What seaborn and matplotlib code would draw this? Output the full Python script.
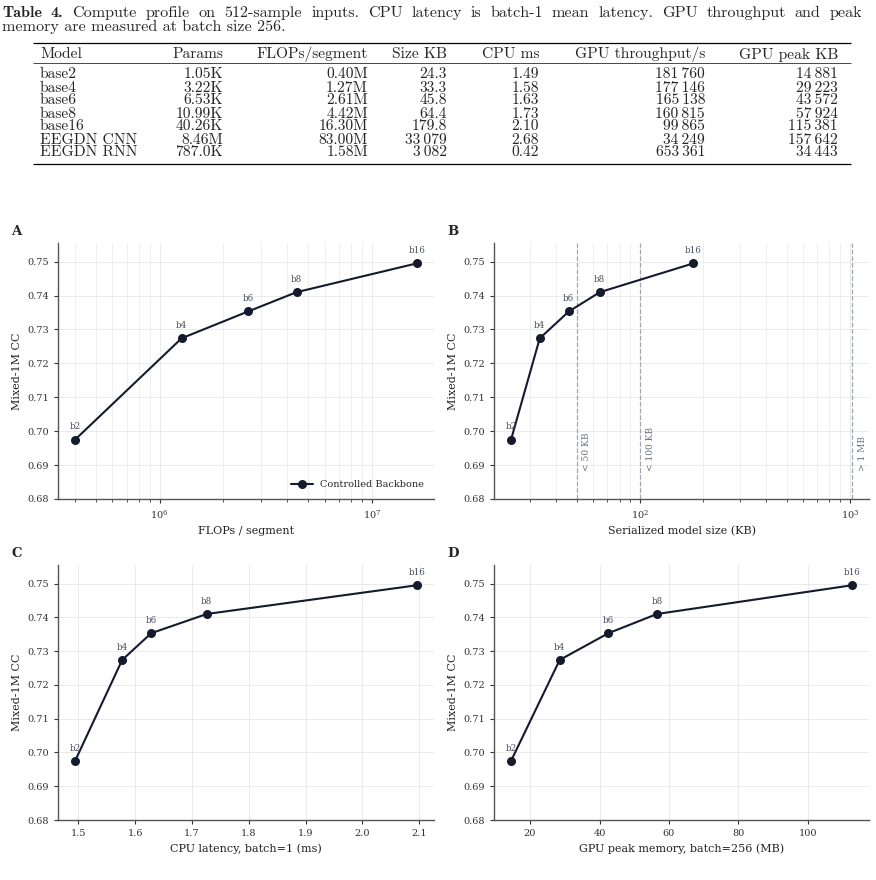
import matplotlib
matplotlib.use("Agg")
import matplotlib.pyplot as plt
import pandas as pd
import seaborn as sns
from matplotlib.ticker import FormatStrFormatter, LogLocator, NullFormatter, MultipleLocator

# ---- table data (Table 4) ----
table_header = ["Model", "Params", "FLOPs/segment", "Size KB", "CPU ms", "GPU throughput/s", "GPU peak KB"]
table_models = ["base2", "base4", "base6", "base8", "base16", "EEGDN CNN", "EEGDN RNN"]
table_params = ["1.05K", "3.22K", "6.53K", "10.99K", "40.26K", "8.46M", "787.0K"]
table_flops = ["0.40M", "1.27M", "2.61M", "4.42M", "16.30M", "83.00M", "1.58M"]
table_size = ["24.3", "33.3", "45.8", "64.4", "179.8", "33\u2009079", "3\u2009082"]
table_cpu = ["1.49", "1.58", "1.63", "1.73", "2.10", "2.68", "0.42"]
table_thr = ["181\u2009760", "177\u2009146", "165\u2009138", "160\u2009815", "99\u2009865", "34\u2009249", "653\u2009361"]
table_peak = ["14\u2009881", "29\u2009223", "43\u2009572", "57\u2009924", "115\u2009381", "157\u2009642", "34\u2009443"]

caption_1 = ("Compute profile on 512-sample inputs. CPU latency is batch-1 mean latency. "
             "GPU throughput and peak")
caption_2 = "memory are measured at batch size 256."

# ---- plot data (controlled backbone) ----
labels = ["b2", "b4", "b6", "b8", "b16"]
cc = [0.6975, 0.7274, 0.7353, 0.7410, 0.7495]
flops = [0.40e6, 1.27e6, 2.61e6, 4.42e6, 16.30e6]
size_kb = [24.3, 33.3, 45.8, 64.4, 179.8]
cpu_ms = [1.494, 1.577, 1.628, 1.726, 2.096]
gpu_mb = [14.53, 28.54, 42.55, 56.57, 112.68]
size_limits = [50, 100, 1024]
size_limit_labels = ["< 50 KB", "< 100 KB", "> 1 MB"]

ink = "#141b2d"
sns.set_style("ticks")
plt.rcParams["font.family"] = ["DejaVu Serif"]
plt.rcParams["mathtext.fontset"] = "dejavuserif"

W, H = 876, 880
fig = plt.figure(figsize=(W / 100, H / 100), dpi=100)

# table drawn in pixel coordinates
tab = fig.add_axes([0, 0, 1, 1])
tab.set_xlim(0, W)
tab.set_ylim(H, 0)
tab.axis("off")
cm = ["cmr10", "DejaVu Serif"]
cmb = ["cmb10", "DejaVu Serif"]
fs_cap = 11.6
fs_tab = 11.2
r = fig.canvas.get_renderer()

# caption line 1 is justified across the text width
words = [("Table", cmb), ("4.", cmb)] + [(w, cm) for w in caption_1.split(" ")]
items = []
for w, fam in words:
    t = tab.text(0, 17, w, family=fam, fontsize=fs_cap, va="baseline")
    items.append((t, t.get_window_extent(renderer=r).width))
left, right = 2, 862
gap = (right - left - sum(wd for _, wd in items)) / (len(items) - 1)
xpos = left
for t, wd in items:
    t.set_x(xpos)
    xpos += wd + gap
tab.text(2, 31.5, caption_2, family=cm, fontsize=fs_cap, va="baseline")

tab.hlines([42.7, 164.3], 33, 851, color="black", lw=0.9)
tab.hlines([63.3], 33, 851, color="black", lw=0.5)

col_x = [40, 223, 368, 447, 539, 705, 838]
cols = [table_models, table_params, table_flops, table_size, table_cpu, table_thr, table_peak]
for j, (cx, head) in enumerate(zip(col_x, table_header)):
    ha = "left" if j == 0 else "right"
    tab.text(cx, 58.5, head, family=cm, fontsize=fs_tab, ha=ha, va="baseline")
    for i, val in enumerate(cols[j]):
        tab.text(cx, 78.5 + i * 13.0, val, family=cm, fontsize=fs_tab, ha=ha, va="baseline")


def panel(rect, x, xlabel, letter, logx=False, legend=False):
    ax = fig.add_axes([rect[0] / W, 1 - rect[3] / H, (rect[2] - rect[0]) / W, (rect[3] - rect[1]) / H])
    df = pd.DataFrame({"x": x, "cc": cc, "label": labels})
    sns.lineplot(data=df, x="x", y="cc", ax=ax, color=ink, marker="o", markersize=6.5,
                 markeredgewidth=0, linewidth=1.5, label="Controlled Backbone", legend=False, zorder=3)
    for xi, yi, lab in zip(x, cc, labels):
        ax.annotate(lab, (xi, yi), xytext=(0, 6), textcoords="offset points", ha="center",
                    va="bottom", fontsize=6.3, color="#4a4f5c", zorder=4)
    if logx:
        ax.set_xscale("log")
        ax.xaxis.set_minor_locator(LogLocator(base=10, subs=range(2, 10)))
        ax.xaxis.set_minor_formatter(NullFormatter())
        ax.grid(True, which="minor", axis="x", color="#ececec", lw=0.6)
    ax.grid(True, which="major", color="#e8e8e8", lw=0.6)
    ax.set_ylim(0.68, 0.7555)
    ax.yaxis.set_major_locator(MultipleLocator(0.01))
    ax.yaxis.set_major_formatter(FormatStrFormatter("%.2f"))
    ax.set_xlabel(xlabel, fontsize=8, color="#222222")
    ax.set_ylabel("Mixed-1M CC", fontsize=8, color="#222222")
    ax.tick_params(which="major", labelsize=7, length=3, width=0.8, colors="#333333")
    ax.tick_params(which="minor", length=2, width=0.6, colors="#333333")
    sns.despine(ax=ax)
    for s in ["left", "bottom"]:
        ax.spines[s].set_color("#555555")
        ax.spines[s].set_linewidth(1.0)
    if legend:
        ax.legend(loc="lower right", frameon=False, fontsize=7, handlelength=2.2, borderaxespad=0.6)
    fig.text((rect[0] - 47) / W, 1 - (rect[1] - 8) / H, letter, fontsize=9.5, weight="bold",
             va="baseline", ha="left")
    return ax


axA = panel((58, 243, 434, 499), flops, "FLOPs / segment", "A", logx=True, legend=True)
axB = panel((494, 243, 869, 499), size_kb, "Serialized model size (KB)", "B", logx=True)
for lim, lab in zip(size_limits, size_limit_labels):
    axB.axvline(lim, ls="--", color="#a0a6b2", lw=0.9, zorder=1)
    axB.annotate(lab, (lim, 0.6883), xytext=(4, 0), textcoords="offset points", rotation=90,
                 ha="left", va="bottom", fontsize=6.5, color="#6b7080")
axC = panel((58, 565, 434, 820), cpu_ms, "CPU latency, batch=1 (ms)", "C")
axD = panel((494, 565, 869, 820), gpu_mb, "GPU peak memory, batch=256 (MB)", "D")

fig.savefig("out.png", dpi=100)
